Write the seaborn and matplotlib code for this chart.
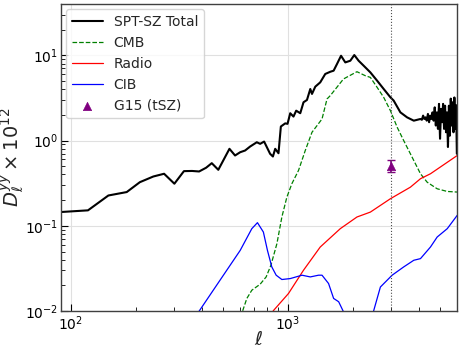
import numpy as np
import pandas as pd
import matplotlib
matplotlib.use("Agg")
import matplotlib.pyplot as plt
import seaborn as sns

sns.set_style("whitegrid")

# SPT-SZ total
ell_total = [89, 120, 149, 181, 208, 240, 269, 300, 332, 362, 390, 420, 446, 478,
             538, 571, 603, 635, 670, 719, 745, 777, 828, 853, 874, 905, 928, 972,
             996, 1025, 1061, 1092, 1140, 1180, 1224, 1268, 1291, 1337, 1409, 1486,
             1567, 1624, 1683, 1757, 1838, 1938, 2022, 2117, 2233, 2398, 2576, 2762,
             2966, 3070, 3297, 3540, 3800, 4080,
             4140, 4195, 4250, 4305, 4360, 4415, 4470, 4525, 4580, 4635, 4690, 4745,
             4800, 4855, 4910, 4965, 5020, 5075, 5130, 5185, 5240, 5295, 5350, 5405,
             5460, 5515, 5570, 5625, 5680, 5735, 5790, 5845, 5900, 5955, 6000]
d_total = [0.145, 0.152, 0.227, 0.249, 0.325, 0.379, 0.408, 0.312, 0.438, 0.44, 0.434,
           0.48, 0.543, 0.454, 0.80, 0.668, 0.730, 0.764, 0.851, 0.955, 0.915, 0.973,
           0.699, 0.650, 0.80, 0.710, 1.46, 1.59, 1.57, 2.09, 1.91, 2.24, 2.09, 2.81,
           2.99, 4.02, 3.52, 4.28, 4.81, 6.03, 6.4, 6.59, 7.89, 9.86, 8.24, 8.62, 10.05,
           8.62, 7.54, 6.29, 5.03, 4.02, 3.21, 2.94, 2.14, 1.87, 1.71, 1.79,
           1.75, 1.96, 1.79, 1.87, 1.71, 2.05, 1.64, 1.96, 1.79, 2.14, 1.71, 2.45,
           1.50, 2.14, 1.37, 2.69, 1.05, 2.35, 1.64, 2.69, 1.37, 2.56, 1.25, 2.14,
           0.84, 2.56, 1.14, 3.10, 1.50, 2.81, 1.25, 3.2, 1.37, 2.6, 0.70]

# CMB
ell_cmb = [500, 619, 647, 682, 745, 794, 835, 890, 938, 989, 1043, 1119, 1202, 1291,
           1436, 1514, 1567, 1803, 2080, 2274, 2398, 2576, 2762, 2966, 3187, 3414,
           3733, 4080, 4379, 4870, 5420, 6025]
d_cmb = [0.004, 0.0101, 0.0141, 0.0176, 0.0207, 0.0252, 0.0345, 0.0619, 0.127, 0.217,
         0.312, 0.446, 0.764, 1.25, 1.79, 3.07, 3.36, 5.27, 6.41, 5.75, 5.50, 4.20,
         3.21, 2.24, 1.43, 1.0, 0.638, 0.408, 0.325, 0.272, 0.253, 0.249]

# Radio
ell_radio = [700, 859, 1006, 1180, 1409, 1743, 2080, 2398, 2966, 3665, 4080, 4536, 6025]
d_radio = [0.005, 0.0102, 0.0161, 0.0302, 0.0565, 0.0927, 0.127, 0.145, 0.208, 0.284,
           0.357, 0.408, 0.668]

# CIB
ell_cib = [300, 391, 487, 603, 682, 724, 771, 805, 843, 883, 938, 1025, 1161, 1268,
           1384, 1436, 1539, 1624, 1713, 1794, 2000, 2300, 2483, 2667, 3020, 3414,
           3800, 4080, 4536, 4870, 5420, 6025]
d_cib = [0.004, 0.0101, 0.0231, 0.0516, 0.0927, 0.109, 0.0846, 0.0516, 0.0330, 0.0264,
         0.0235, 0.0241, 0.0264, 0.0252, 0.0264, 0.0264, 0.0211, 0.0141, 0.0129, 0.0101,
         0.005, 0.005, 0.0101, 0.0192, 0.0264, 0.0330, 0.0395, 0.0413, 0.0565, 0.074,
         0.0927, 0.133]

# G15 tSZ point
ell_g15 = [3000]
d_g15 = [0.50]
err_lo = [0.07]
err_hi = [0.09]

fig = plt.figure(figsize=(4.61, 3.52), dpi=100)
ax = fig.add_axes([0.132, 0.116, 0.859, 0.873])

sns.lineplot(x=ell_total, y=d_total, ax=ax, color="black", lw=1.5,
             label="SPT-SZ Total", estimator=None, sort=False)
sns.lineplot(x=ell_cmb, y=d_cmb, ax=ax, color="green", lw=0.9, ls="--",
             label="CMB", estimator=None, sort=False)
sns.lineplot(x=ell_radio, y=d_radio, ax=ax, color="red", lw=0.9,
             label="Radio", estimator=None, sort=False)
sns.lineplot(x=ell_cib, y=d_cib, ax=ax, color="blue", lw=0.9,
             label="CIB", estimator=None, sort=False)
ax.errorbar(ell_g15, d_g15, yerr=[err_lo, err_hi], fmt="none", ecolor="purple",
            elinewidth=1.2, capsize=3)
sns.scatterplot(x=ell_g15, y=d_g15, ax=ax, color="purple", marker="^", s=36,
                edgecolor="purple", label="G15 (tSZ)", zorder=5)

ax.axvline(3000, color="0.3", ls=":", lw=0.8)

ax.set_xscale("log")
ax.set_yscale("log")
ax.set_xlim(90, 6000)
ax.set_ylim(0.01, 40)

ax.grid(True, which="major", color="0.88", lw=0.8)
ax.grid(False, which="minor")
for sp in ax.spines.values():
    sp.set_color("0.25")
    sp.set_linewidth(1.0)
ax.tick_params(which="both", direction="in", left=True, bottom=True, labelsize=10,
               colors="black", pad=2)
ax.tick_params(which="major", length=5)
ax.tick_params(which="minor", length=3)

ax.set_xlabel(r"$\ell$", fontsize=14)
ax.set_ylabel(r"$D_\ell^{yy}\times 10^{12}$", fontsize=14)
ax.xaxis.set_label_coords(0.5, -0.06)
ax.yaxis.set_label_coords(-0.085, 0.5)

ax.legend(loc="upper left", fontsize=10, frameon=True, handlelength=2.2,
          borderaxespad=0.4)

fig.savefig("out.png", dpi=100)
